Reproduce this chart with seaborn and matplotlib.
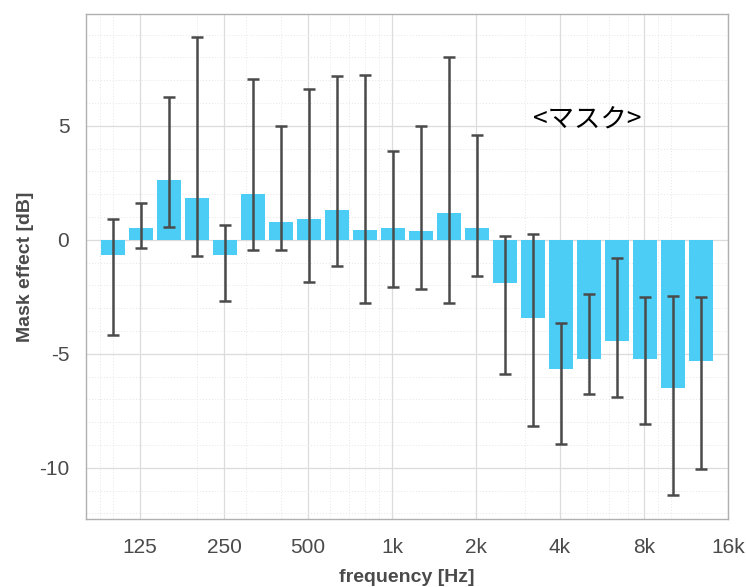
#!/usr/bin/env python3
import numpy as np
import pandas as pd
import seaborn as sns
import matplotlib
matplotlib.use("Agg")
import matplotlib.pyplot as plt

# 1/3 octave band centres [Hz]
BANDS = ["100", "125", "160", "200", "250", "315", "400", "500", "630", "800",
         "1k", "1.25k", "1.6k", "2k", "2.5k", "3.15k", "4k", "5k", "6.3k", "8k",
         "10k", "12.5k"]
BAND_HZ = [100, 125, 160, 200, 250, 315, 400, 500, 630, 800, 1000, 1250, 1600,
           2000, 2500, 3150, 4000, 5000, 6300, 8000, 10000, 12500]

# mask effect [dB] and error bar ends
MEAN = [-0.65, 0.53, 2.6, 1.83, -0.65, 2.0, 0.76, 0.92, 1.29, 0.44, 0.53, 0.4,
        1.18, 0.53, -1.9, -3.42, -5.66, -5.22, -4.43, -5.22, -6.49, -5.3]
UPPER = [0.92, 1.6, 6.27, 8.9, 0.66, 7.05, 4.97, 6.6, 7.2, 7.24, 3.9, 4.97,
         8.0, 4.6, 0.17, 0.26, -3.64, -2.4, -0.8, -2.49, -2.45, -2.5]
LOWER = [-4.17, -0.37, 0.58, -0.73, -2.7, -0.47, -0.47, -1.87, -1.17, -2.77,
         -2.07, -2.15, -2.77, -1.58, -5.88, -8.16, -8.95, -6.75, -6.88, -8.07,
         -11.18, -10.04]

TICK_HZ = [125, 250, 500, 1000, 2000, 4000, 8000, 16000]
TICK_LABELS = ["125", "250", "500", "1k", "2k", "4k", "8k", "16k"]

BAR_COLOR = "#4ccdf5"
ERR_COLOR = "#4a4a4a"
TEXT_COLOR = "#4a4a4a"


def band_pos(f):
    # position on the band axis (100 Hz -> 0, one third octave per step)
    return 3 * np.log2(np.asarray(f, dtype=float) / BAND_HZ[0])


sns.set_theme(style="white")
plt.rcParams["font.family"] = ["Liberation Sans", "Noto Sans CJK JP", "DejaVu Sans"]

df = pd.DataFrame({"band": BANDS, "effect": MEAN})

fig = plt.figure(figsize=(7.46, 5.87), dpi=100)
ax = fig.add_axes([0.1153, 0.1158, 0.8606, 0.8603])

sns.barplot(data=df, x="band", y="effect", order=BANDS, color=BAR_COLOR,
            saturation=1, width=0.88, errorbar=None, ax=ax, zorder=2)
for p in ax.patches:
    p.set_edgecolor("none")

x = np.arange(len(BANDS))
mean = np.array(MEAN)
yerr = [mean - np.array(LOWER), np.array(UPPER) - mean]
ax.errorbar(x, mean, yerr=yerr, fmt="none", ecolor=ERR_COLOR, elinewidth=1.8,
            capsize=4.5, capthick=1.8, zorder=3)

ax.set_xlim(band_pos(80), band_pos(16000))
ax.set_ylim(-12.25, 9.9)

ax.set_xticks(band_pos(TICK_HZ))
ax.set_xticklabels(TICK_LABELS)
ax.set_yticks([-10, -5, 0, 5])
ax.set_yticklabels(["-10", "-5", "0", "5"])

# log-style minor grid as on the original (1..9 x decade)
minor_hz = [m * d for d in (10, 100, 1000, 10000) for m in range(1, 10)]
minor_hz = [f for f in minor_hz if 80 < f < 16000]
ax.set_xticks(band_pos(minor_hz), minor=True)
ax.set_yticks(np.arange(-12, 10, 1), minor=True)

ax.grid(which="major", color="#dcdcdc", linewidth=0.9, zorder=0)
ax.grid(which="minor", color="#e6e6e6", linewidth=0.7, linestyle=(0, (1, 2)),
        zorder=0)
ax.set_axisbelow(True)

ax.tick_params(axis="both", which="major", direction="in", length=4,
               labelsize=15, labelcolor=TEXT_COLOR, color="#606060")
ax.tick_params(axis="x", which="major", pad=14)
ax.tick_params(axis="y", which="major", pad=12)
ax.tick_params(axis="both", which="minor", length=0)
for s in ax.spines.values():
    s.set_color("#b0b0b0")
    s.set_linewidth(1.0)

ax.set_xlabel("frequency [Hz]", fontsize=14, fontweight="bold",
              color=TEXT_COLOR, labelpad=8)
ax.set_ylabel("Mask effect [dB]", fontsize=14, fontweight="bold",
              color=TEXT_COLOR, labelpad=4)

ax.text(band_pos(5000), 5.25, "<マスク>", fontsize=19, color="black",
        ha="center", va="center", family=["Noto Sans CJK JP", "DejaVu Sans"])

fig.savefig("out.png", dpi=100)
